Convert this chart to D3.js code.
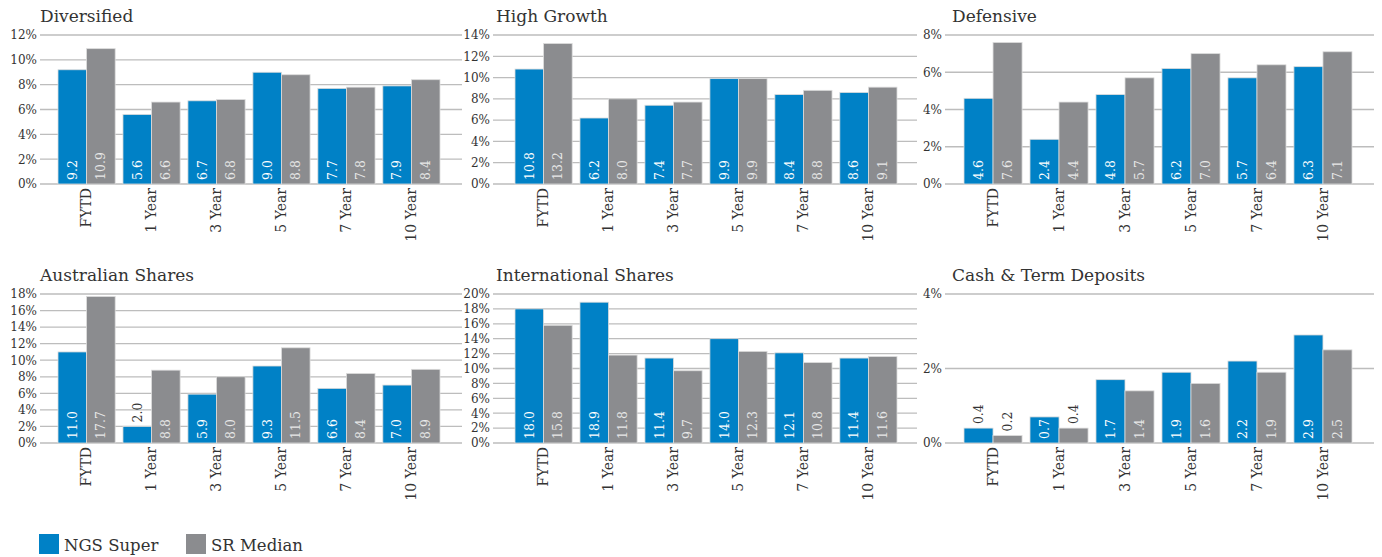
<!DOCTYPE html>
<html>
<head>
<meta charset="utf-8">
<script src="https://cdn.jsdelivr.net/npm/d3@7"></script>
<style>
  body { margin: 0; background: #fff; }
  svg { font-family: "DejaVu Serif", serif; }
</style>
</head>
<body>
<div id="chart"></div>
<script>
// categories shared by all six panels
var categories = ["FYTD", "1 Year", "3 Year", "5 Year", "7 Year", "10 Year"];
var seriesNames = ["NGS Super", "SR Median"];

var titles = ["Diversified", "High Growth", "Defensive",
              "Australian Shares", "International Shares", "Cash & Term Deposits"];

var diversifiedNgs = [9.2, 5.6, 6.7, 9.0, 7.7, 7.9];
var diversifiedSr  = [10.9, 6.6, 6.8, 8.8, 7.8, 8.4];
var highGrowthNgs  = [10.8, 6.2, 7.4, 9.9, 8.4, 8.6];
var highGrowthSr   = [13.2, 8.0, 7.7, 9.9, 8.8, 9.1];
var defensiveNgs   = [4.6, 2.4, 4.8, 6.2, 5.7, 6.3];
var defensiveSr    = [7.6, 4.4, 5.7, 7.0, 6.4, 7.1];
var ausSharesNgs   = [11.0, 2.0, 5.9, 9.3, 6.6, 7.0];
var ausSharesSr    = [17.7, 8.8, 8.0, 11.5, 8.4, 8.9];
var intlSharesNgs  = [18.0, 18.9, 11.4, 14.0, 12.1, 11.4];
var intlSharesSr   = [15.8, 11.8, 9.7, 12.3, 10.8, 11.6];
var cashNgs        = [0.4, 0.7, 1.7, 1.9, 2.2, 2.9];
var cashSr         = [0.2, 0.4, 1.4, 1.6, 1.9, 2.5];

// y axis maximum (%) per panel
var yMax = [12, 14, 8, 18, 20, 4];

var ngsData = [diversifiedNgs, highGrowthNgs, defensiveNgs, ausSharesNgs, intlSharesNgs, cashNgs];
var srData  = [diversifiedSr, highGrowthSr, defensiveSr, ausSharesSr, intlSharesSr, cashSr];

var colors = {"NGS Super": "#0081c6", "SR Median": "#8b8c8f"};
var textColor = "#333";

var W = 1382, H = 557;
var svg = d3.select("#chart").append("svg")
    .attr("width", W)
    .attr("height", H);

// panel layout: grid line start/end, bar range, title x
var cols = [
    {gx0: 40,  gx1: 462,  bx0: 58,  bx1: 440,  tx: 40},
    {gx0: 493, gx1: 917,  bx0: 515, bx1: 897,  tx: 496},
    {gx0: 945, gx1: 1374, bx0: 964, bx1: 1352, tx: 952}
];
var rows = [
    {top: 35,  bottom: 184, ty: 22},
    {top: 294, bottom: 443, ty: 281}
];

titles.forEach(function (title, i) {
    var col = cols[i % 3], row = rows[Math.floor(i / 3)];
    var g = svg.append("g").attr("class", "panel");

    var x0 = d3.scaleBand()
        .domain(categories)
        .range([col.bx0, col.bx1])
        .paddingInner(0.12)
        .paddingOuter(0);

    var x1 = d3.scaleBand()
        .domain(seriesNames)
        .range([0, x0.bandwidth()]);

    var y = d3.scaleLinear()
        .domain([0, yMax[i]])
        .range([row.bottom, row.top]);

    var ticks = d3.range(0, yMax[i] + 0.001, 2);

    // title
    g.append("text")
        .attr("x", col.tx)
        .attr("y", row.ty)
        .attr("fill", textColor)
        .style("font-size", "17px")
        .text(title);

    // grid lines
    g.selectAll(".grid")
        .data(ticks)
        .enter().append("line")
        .attr("class", "grid")
        .attr("x1", col.gx0)
        .attr("x2", col.gx1)
        .attr("y1", function (d) { return y(d); })
        .attr("y2", function (d) { return y(d); })
        .attr("stroke", "#bdbdbd")
        .attr("stroke-width", 1.3);

    // y axis labels
    var yAxis = d3.axisLeft(y)
        .tickValues(ticks)
        .tickSize(0)
        .tickPadding(3)
        .tickFormat(function (d) { return d + "%"; });

    var ya = g.append("g")
        .attr("transform", "translate(" + col.gx0 + ",0)")
        .call(yAxis);
    ya.select(".domain").remove();
    ya.selectAll("text")
        .attr("fill", textColor)
        .style("font-family", "DejaVu Serif")
        .style("font-size", "12px");

    // bars
    var groupData = categories.map(function (c, j) {
        return {cat: c, values: [
            {key: "NGS Super", value: ngsData[i][j]},
            {key: "SR Median", value: srData[i][j]}
        ]};
    });

    var groups = g.selectAll(".cat-group")
        .data(groupData)
        .enter().append("g")
        .attr("class", "cat-group")
        .attr("transform", function (d) { return "translate(" + x0(d.cat) + ",0)"; });

    groups.selectAll("rect")
        .data(function (d) { return d.values; })
        .enter().append("rect")
        .attr("x", function (d) { return x1(d.key); })
        .attr("y", function (d) { return y(d.value); })
        .attr("width", x1.bandwidth())
        .attr("height", function (d) { return y(0) - y(d.value); })
        .attr("fill", function (d) { return colors[d.key]; })
        .attr("stroke", "#dcdcdc")
        .attr("stroke-width", 0.8);

    // value labels (rotated, inside bar if it fits, otherwise above)
    groups.selectAll(".val")
        .data(function (d) { return d.values; })
        .enter().append("text")
        .attr("class", "val")
        .style("font-size", "12.5px")
        .attr("text-anchor", "start")
        .attr("dy", "0.35em")
        .text(function (d) { return d.value.toFixed(1); })
        .each(function (d) {
            var t = d3.select(this);
            var len = this.getComputedTextLength();
            var cx = x1(d.key) + x1.bandwidth() / 2;
            var barH = y(0) - y(d.value);
            var inside = len + 4 <= barH;
            var startY = inside ? y(0) - 4 : y(d.value) - 4;
            t.attr("transform", "translate(" + cx + "," + startY + ") rotate(-90)")
                .attr("fill", inside ? (d.key === "NGS Super" ? "#fff" : "#e8e8e8") : textColor);
        });

    // category labels
    groups.append("text")
        .attr("text-anchor", "end")
        .attr("dy", "0.35em")
        .attr("transform", "translate(" + (x0.bandwidth() / 2) + "," + (row.bottom + 4) + ") rotate(-90)")
        .attr("fill", textColor)
        .style("font-size", "14px")
        .text(function (d) { return d.cat; });
});

// legend
var legend = svg.append("g").attr("class", "legend");
var legendX = [39, 186];
seriesNames.forEach(function (name, i) {
    legend.append("rect")
        .attr("x", legendX[i])
        .attr("y", 534)
        .attr("width", 20)
        .attr("height", 20)
        .attr("fill", colors[name]);
    legend.append("text")
        .attr("x", legendX[i] + 25)
        .attr("y", 551)
        .attr("fill", textColor)
        .style("font-size", "16.5px")
        .text(name);
});
</script>
</body>
</html>
